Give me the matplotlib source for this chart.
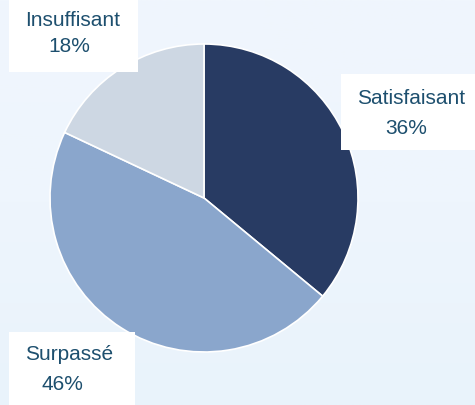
import numpy as np
import matplotlib.pyplot as plt
from matplotlib.patches import Rectangle
from matplotlib.colors import LinearSegmentedColormap

# Data
labels = ["Satisfaisant", "Surpassé", "Insuffisant"]
values = [36, 46, 18]
colors = ["#283b63", "#8aa6cc", "#cdd7e3"]

W, H = 475, 405
fig = plt.figure(figsize=(W / 100, H / 100), dpi=100)
ax = fig.add_axes([0, 0, 1, 1])

# soft background gradient
bg = LinearSegmentedColormap.from_list("bg", ["#e9f3fb", "#eef5fd", "#f0f6fd"])
grad = np.linspace(0, 1, 200).reshape(-1, 1)
ax.imshow(grad, cmap=bg, extent=[0, W, 0, H], origin="lower", aspect="auto", zorder=0)

# pie
ax.pie(values, colors=colors, startangle=90, counterclock=False,
       center=(204, 207), radius=154,
       wedgeprops=dict(edgecolor="white", linewidth=1.2), frame=True)
ax.set_xlim(0, W)
ax.set_ylim(0, H)
ax.set_aspect("equal")
ax.axis("off")

# label boxes (box origin, width, height, line 1 centre, line 2 centre) in pixels
text_color = "#1d4f6e"
fam = ["Liberation Sans", "DejaVu Sans"]
boxes = {
    "Insuffisant": ((9, H - 72), 129, 72, (73, H - 20), (69, H - 47)),
    "Satisfaisant": ((341, H - 150), 134, 76, (411, H - 98), (406, H - 129)),
    "Surpassé": ((9, 0), 126, H - 332, (69, H - 354), (62, H - 384)),
}
for lab, val in zip(labels, values):
    (x0, y0), w, h, p1, p2 = boxes[lab]
    ax.add_patch(Rectangle((x0, y0), w, h, facecolor="white", edgecolor="none", zorder=3))
    ax.text(*p1, lab, ha="center", va="center", fontsize=15,
            family=fam, color=text_color, zorder=4)
    ax.text(*p2, f"{val}%", ha="center", va="center", fontsize=15,
            family=fam, color=text_color, zorder=4)

fig.savefig("out.png", dpi=100)
